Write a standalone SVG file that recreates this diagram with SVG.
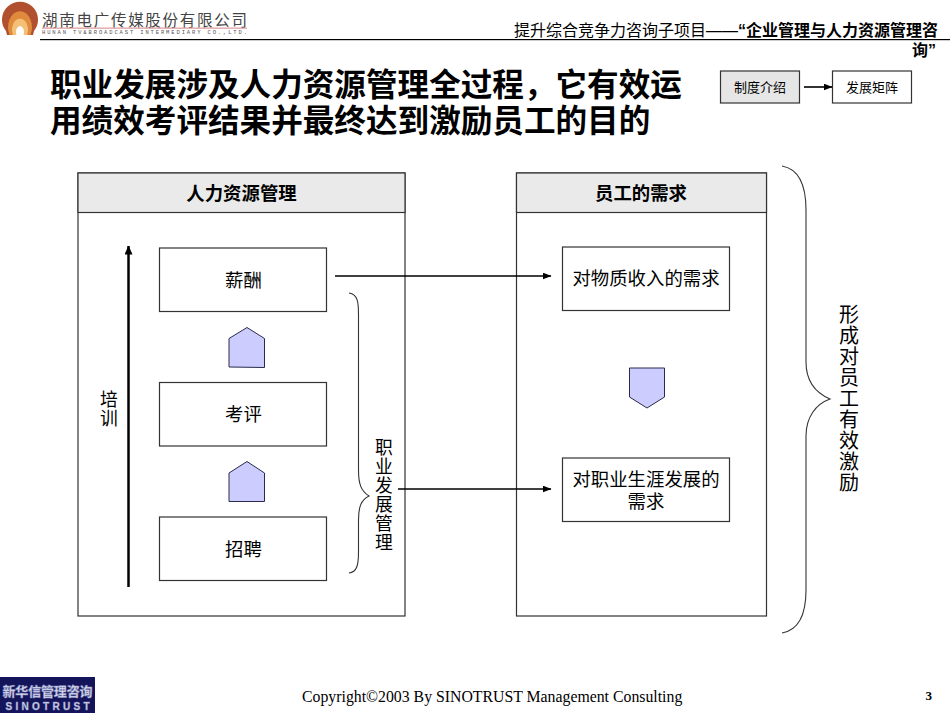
<svg xmlns="http://www.w3.org/2000/svg" width="950" height="713" viewBox="0 0 950 713">
<defs>
<marker id="arr" markerWidth="9" markerHeight="8" refX="8.5" refY="3.5" orient="auto" markerUnits="userSpaceOnUse"><path d="M0 0L9 3.5L0 7Z" fill="#000"/></marker>
<marker id="arrUp" markerWidth="9" markerHeight="10" refX="8.5" refY="4" orient="auto" markerUnits="userSpaceOnUse"><path d="M0 0L9 4L0 8Z" fill="#000"/></marker>
</defs>
<style>
text{font-family:"Liberation Sans","Noto Sans CJK SC",sans-serif;fill:#000}
.box{fill:#fff;stroke:#333;stroke-width:1.2}
.head{fill:#eaeaea;stroke:#333;stroke-width:1.2}
.t18{font-size:18.4px;text-anchor:middle}
.t13{font-size:13px;text-anchor:middle}
.h{font-size:18.4px;font-weight:bold;text-anchor:middle}
.v{font-size:17.8px;text-anchor:middle}
.vl{font-size:20px;text-anchor:middle}
.title{font-size:31.6px;font-weight:bold}
.pent{fill:#ccccff;stroke:#2a2a4a;stroke-width:1}
.brace{fill:none;stroke:#333;stroke-width:1.1}
.con{fill:none;stroke:#000;stroke-width:1.6}
</style>
<rect width="950" height="713" fill="#fff"/>

<g id="logo">
<path d="M6 31A18 18 0 1 1 34 31L33 35H7Z" fill="#b0502e"/>
<path d="M9.500 35A12 16 0 1 1 30.500 35Z" fill="#e08a3c"/>
<path d="M13 35A8 11 0 1 1 27 35Z" fill="#f4c078"/>
<path d="M16.500 35A4 6 0 1 1 23.500 35Z" fill="#fff"/>
<text x="42" y="26" font-size="15.500" textLength="205" lengthAdjust="spacing" style="font-family:'Liberation Serif','Noto Sans CJK SC',serif;fill:#444">湖南电广传媒股份有限公司</text>
<rect x="42" y="27.500" width="205" height="1.300" fill="#e0a0a0"/>
<text x="42" y="34" font-size="5.500" textLength="205" lengthAdjust="spacing" style="font-family:'Liberation Mono',monospace;fill:#555">HUNAN TV&amp;BROADCAST INTERMEDIARY CO.,LTD.</text>
</g>
<rect x="40" y="39" width="910" height="1.200" fill="#000"/>

<g id="header">
<text x="514" y="36" font-size="16"><tspan>提升综合竞争力咨询子项目——</tspan><tspan font-weight="bold">“企业管理与人力资源管理咨</tspan></text>
<text x="936" y="56" font-size="16" font-weight="bold" text-anchor="end">询”</text>
</g>

<g id="title">
<text class="title" x="50" y="96">职业发展涉及人力资源管理全过程，它有效运</text>
<text class="title" x="50" y="132">用绩效考评结果并最终达到激励员工的目的</text>
</g>

<g id="nav-1"><rect class="head" x="720.500" y="71" width="79" height="32" style="fill:#e6e6e6"/><text class="t13" x="760" y="92">制度介绍</text></g>
<g id="nav-2"><rect class="box" x="832.500" y="71" width="79" height="32"/><text class="t13" x="872" y="92">发展矩阵</text></g>

<g id="panel-hr">
<rect class="box" x="78" y="173" width="327" height="443"/>
<rect class="head" x="78" y="173" width="327" height="39.500"/>
<text class="h" x="241.500" y="200">人力资源管理</text>
</g>
<g id="panel-needs">
<rect class="box" x="516.500" y="173" width="250" height="443"/>
<rect class="head" x="516.500" y="173" width="250" height="39.500"/>
<text class="h" x="641" y="200">员工的需求</text>
</g>

<g id="pay"><rect class="box" x="159.500" y="248" width="167" height="63.500"/><text class="t18" x="243.500" y="287">薪酬</text></g>
<g id="review"><rect class="box" x="159.500" y="382.500" width="167" height="63.500"/><text class="t18" x="243.500" y="421">考评</text></g>
<g id="hire"><rect class="box" x="159.500" y="517" width="167" height="63.500"/><text class="t18" x="243.500" y="556">招聘</text></g>
<g id="need-income"><rect class="box" x="562.500" y="247" width="167" height="63.500"/><text class="t18" x="646" y="285">对物质收入的需求</text></g>
<g id="need-career"><rect class="box" x="562.500" y="458" width="167" height="63.500"/><text class="t18" x="646" y="486">对职业生涯发展的</text><text class="t18" x="646" y="508">需求</text></g>

<g id="up-1"><path class="pent" d="M229 338.500L247 327.500L264.500 338.500V367.500L229 367Z"/></g>
<g id="up-2"><path class="pent" d="M229 473L247 461.500L264.500 473V501.500H229Z"/></g>
<g id="down-1"><path class="pent" d="M629.500 368H664.500V397L647 408L629.500 397Z"/></g>

<g id="training"><text class="v" x="109" y="406">培</text><text class="v" x="109" y="425">训</text></g>
<g id="career-label">
<text class="v" x="384" y="454">职</text><text class="v" x="384" y="473">业</text><text class="v" x="384" y="492">发</text><text class="v" x="384" y="511">展</text><text class="v" x="384" y="530">管</text><text class="v" x="384" y="549">理</text>
</g>
<g id="motivate-label">
<text class="vl" x="849" y="322">形</text><text class="vl" x="849" y="343">成</text><text class="vl" x="849" y="364">对</text><text class="vl" x="849" y="385">员</text><text class="vl" x="849" y="406">工</text><text class="vl" x="849" y="427">有</text><text class="vl" x="849" y="448">效</text><text class="vl" x="849" y="469">激</text><text class="vl" x="849" y="490">励</text>
</g>

<g id="braces">
<path class="brace" d="M349 293C358 294 358.500 303 358.500 315V470C358.500 484 361 491 369 496C361 500 358.500 507 358.500 520V552C358.500 565 357 572 349 573"/>
<path class="brace" d="M782 166C799 169 806 185 806 210V362C806 381 816 393 830 399C816 404 806 417 806 436V590C806 615 799 630 782 633"/>
</g>

<g id="connectors">
<line class="con" x1="804" y1="87" x2="832" y2="87" marker-end="url(#arr)"/>
<line class="con" x1="335" y1="276" x2="551" y2="276" marker-end="url(#arr)"/>
<line class="con" x1="398" y1="489" x2="551" y2="489" marker-end="url(#arr)"/>
<line class="con" x1="128.500" y1="587" x2="128.500" y2="246" style="stroke-width:2.500" marker-end="url(#arrUp)"/>
</g>

<g id="sinotrust">
<rect x="0" y="677" width="95" height="36" fill="#14145a"/>
<text x="47.500" y="696" font-size="13" font-weight="bold" text-anchor="middle" textLength="90" style="fill:#dde;stroke:#8890c0;stroke-width:.5">新华信管理咨询</text>
<text x="47.500" y="710" font-size="10" font-weight="bold" text-anchor="middle" textLength="84" style="fill:#dde;stroke:#8890c0;stroke-width:.5">SINOTRUST</text>
</g>
<g id="footer">
<text x="302" y="702" font-size="15.800" style="font-family:'Liberation Serif',serif">Copyright©2003 By SINOTRUST Management Consulting</text>
<text x="932" y="700" font-size="13" font-weight="bold" text-anchor="end" style="font-family:'Liberation Serif',serif">3</text>
</g>
</svg>
